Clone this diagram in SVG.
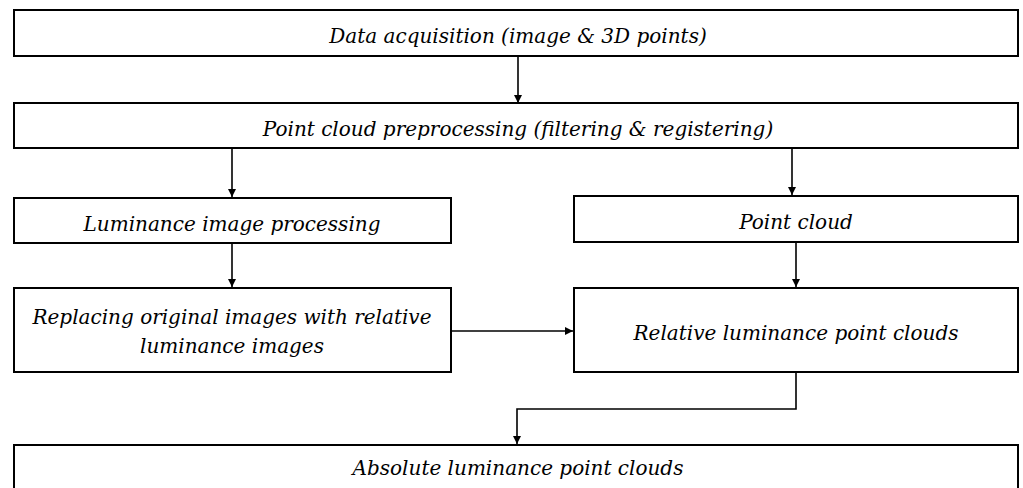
<svg xmlns="http://www.w3.org/2000/svg" width="1023" height="488" viewBox="0 0 1023 488">
  <style>
    .box { fill: #ffffff; stroke: #000000; stroke-width: 2; }
    .lbl { font-family: "DejaVu Serif", "Liberation Serif", serif; font-style: italic; font-size: 20px; fill: #000000; text-anchor: middle; }
    .wire { fill: none; stroke: #000000; stroke-width: 1.6; }
  </style>
  <defs>
    <marker id="arrow" viewBox="0 0 10 10" refX="10" refY="5" markerWidth="10" markerHeight="8" markerUnits="userSpaceOnUse" orient="auto">
      <path d="M0,0 L10,5 L0,10 Z" fill="#000000"/>
    </marker>
  </defs>
  <rect width="1023" height="488" fill="#ffffff"/>

  <g id="connectors">
    <line class="wire" x1="518" y1="56" x2="518" y2="103" marker-end="url(#arrow)"/>
    <line class="wire" x1="232" y1="148" x2="232" y2="197" marker-end="url(#arrow)"/>
    <line class="wire" x1="792" y1="148" x2="792" y2="195" marker-end="url(#arrow)"/>
    <line class="wire" x1="232" y1="243" x2="232" y2="287" marker-end="url(#arrow)"/>
    <line class="wire" x1="796" y1="242" x2="796" y2="287" marker-end="url(#arrow)"/>
    <line class="wire" x1="451" y1="331" x2="573" y2="331" marker-end="url(#arrow)"/>
    <polyline class="wire" points="796,372 796,409 517,409 517,444" marker-end="url(#arrow)"/>
  </g>

  <g id="data-acquisition">
    <rect class="box" x="14" y="10" width="1004" height="46"/>
    <text class="lbl" x="518" y="43">Data acquisition (image &amp; 3D points)</text>
  </g>

  <g id="preprocessing">
    <rect class="box" x="14" y="103" width="1004" height="45"/>
    <text class="lbl" x="518" y="136">Point cloud preprocessing (filtering &amp; registering)</text>
  </g>

  <g id="luminance-processing">
    <rect class="box" x="14" y="198" width="437" height="45"/>
    <text class="lbl" x="232" y="231">Luminance image processing</text>
  </g>

  <g id="point-cloud">
    <rect class="box" x="574" y="196" width="444" height="46"/>
    <text class="lbl" x="796" y="229">Point cloud</text>
  </g>

  <g id="replacing-images">
    <rect class="box" x="14" y="288" width="437" height="84"/>
    <text class="lbl" x="232" y="324">Replacing original images with relative</text>
    <text class="lbl" x="232" y="353">luminance images</text>
  </g>

  <g id="relative-clouds">
    <rect class="box" x="574" y="288" width="444" height="84"/>
    <text class="lbl" x="796" y="340">Relative luminance point clouds</text>
  </g>

  <g id="absolute-clouds">
    <rect class="box" x="14" y="445" width="1004" height="60"/>
    <text class="lbl" x="518" y="475">Absolute luminance point clouds</text>
  </g>
</svg>
